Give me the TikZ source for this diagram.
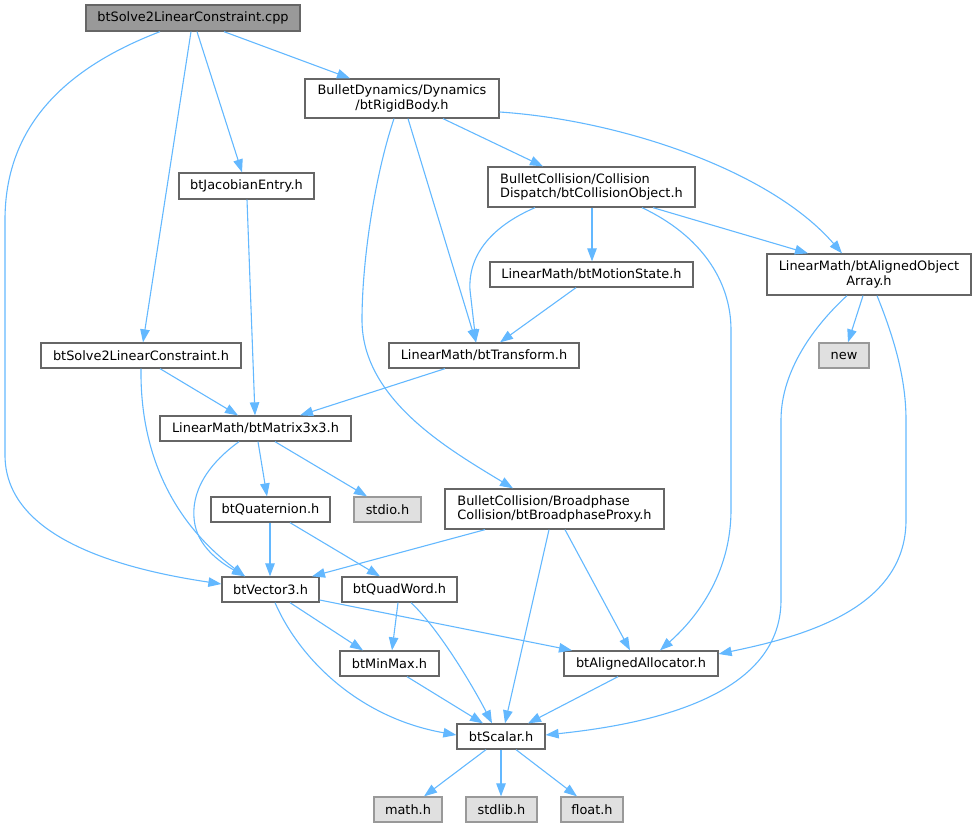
\documentclass[tikz,border=0pt]{standalone}
\usepackage{fontspec}
\setmainfont{DejaVu Sans}
\usetikzlibrary{arrows.meta}
\definecolor{edgec}{HTML}{63B8FF}
\definecolor{bord}{HTML}{666666}
\definecolor{sysb}{HTML}{999999}
\definecolor{sysf}{HTML}{E0E0E0}
\definecolor{cppf}{HTML}{999999}
\begin{document}
\begin{tikzpicture}[x=1pt,y=-1pt,
  box/.style={draw=bord, line width=1.3pt, fill=white, inner sep=0pt,
    font=\fontsize{12.9}{14.5}\selectfont},
  sysbox/.style={box, draw=sysb, fill=sysf},
  rootbox/.style={box, fill=cppf},
  dep/.style={draw=edgec, line width=1.1pt, -{Triangle[length=13pt,width=9.5pt]}}]
\useasboundingbox (0,0) rectangle (976,828);
% nodes
\node[rootbox, minimum width=214pt, minimum height=26pt] (cpp) at (193,18) {btSolve2LinearConstraint.cpp};
\node[box, minimum width=194pt, minimum height=39pt, align=center] (rigid) at (402,98.5) {BulletDynamics/Dynamics\\/btRigidBody.h};
\node[box, minimum width=135pt, minimum height=26pt] (jac) at (246.5,186) {btJacobianEntry.h};
\node[box, minimum width=207pt, minimum height=40pt, align=left] (colobj) at (591.5,187) {BulletCollision/Collision\\Dispatch/btCollisionObject.h};
\node[box, minimum width=204pt, minimum height=41pt, align=center] (aoa) at (869,274.5) {LinearMath/btAlignedObject\\Array.h};
\node[box, minimum width=203pt, minimum height=25pt] (motion) at (591.5,274.5) {LinearMath/btMotionState.h};
\node[box, minimum width=200pt, minimum height=25pt] (solve2h) at (141,355.5) {btSolve2LinearConstraint.h};
\node[box, minimum width=190pt, minimum height=25pt] (trans) at (484,355.5) {LinearMath/btTransform.h};
\node[sysbox, minimum width=50pt, minimum height=25pt] (new) at (844,355.5) {new};
\node[box, minimum width=191pt, minimum height=25pt] (mat) at (255.5,428.5) {LinearMath/btMatrix3x3.h};
\node[box, minimum width=119pt, minimum height=25pt] (quat) at (270.5,509.5) {btQuaternion.h};
\node[sysbox, minimum width=67pt, minimum height=25pt] (stdio) at (387.5,509.5) {stdio.h};
\node[box, minimum width=219pt, minimum height=40pt, align=left] (broad) at (554.5,509) {BulletCollision/Broadphase\\Collision/btBroadphaseProxy.h};
\node[box, minimum width=97pt, minimum height=25pt] (vec) at (270.5,589.5) {btVector3.h};
\node[box, minimum width=115pt, minimum height=25pt] (quad) at (399.5,589.5) {btQuadWord.h};
\node[box, minimum width=99pt, minimum height=25pt] (minmax) at (389.5,663.5) {btMinMax.h};
\node[box, minimum width=154pt, minimum height=25pt] (alloc) at (641,663.5) {btAlignedAllocator.h};
\node[box, minimum width=88pt, minimum height=25pt] (scalar) at (501,736.5) {btScalar.h};
\node[sysbox, minimum width=68pt, minimum height=25pt] (math) at (408,809.5) {math.h};
\node[sysbox, minimum width=71pt, minimum height=25pt] (stdlib) at (501.5,809.5) {stdlib.h};
\node[sysbox, minimum width=62pt, minimum height=25pt] (float) at (592,809.5) {float.h};
% edges
\draw[dep] (cpp.south -| 224,0) -- (rigid.north -| 350,0);
\draw[dep] (cpp.south -| 197,0) -- (jac.north -| 242,0);
\draw[dep] (cpp.south -| 191,0) -- (solve2h.north -| 143,0);
\draw[dep] (cpp.south -| 160,0) .. controls (60,70) and (5,130) .. (5,220) -- (5,455) .. controls (5,530) and (100,566) .. (vec.west |- 0,584);
\draw[dep] (rigid.south -| 443,0) -- (colobj.north -| 543,0);
\draw[dep] (rigid.east |- 0,112) .. controls (620,120) and (770,170) .. (aoa.north -| 842,0);
\draw[dep] (rigid.south -| 408,0) -- (trans.north -| 476,0);
\draw[dep] (rigid.south -| 394,0) .. controls (375,175) and (362,260) .. (362,320) .. controls (362,400) and (450,450) .. (broad.north -| 513,0);
\draw[dep] (jac.south -| 247,0) -- (mat.north -| 255,0);
\draw[dep] (colobj.south -| 592,0) -- (motion.north -| 592,0);
\draw[dep] (colobj.south -| 535,0) .. controls (488,228) and (468,258) .. (470,290) -- (trans.north -| 476,0);
\draw[dep] (colobj.south -| 653,0) -- (aoa.north -| 808,0);
\draw[dep] (colobj.south -| 642,0) .. controls (700,235) and (731,280) .. (731,330) -- (731,510) .. controls (731,570) and (700,615) .. (alloc.north -| 660,0);
\draw[dep] (motion.south -| 576,0) -- (trans.north -| 500,0);
\draw[dep] (aoa.south -| 863,0) -- (new.north -| 848,0);
\draw[dep] (aoa.south -| 847,0) .. controls (815,325) and (781,370) .. (781,420) -- (781,600) .. controls (781,700) and (640,725) .. (scalar.east |- 0,735);
\draw[dep] (aoa.south -| 877,0) .. controls (895,340) and (906,380) .. (906,420) -- (906,520) .. controls (906,610) and (800,637) .. (alloc.east |- 0,654);
\draw[dep] (solve2h.south -| 160,0) -- (mat.north -| 238,0);
\draw[dep] (solve2h.south -| 141,0) .. controls (140,450) and (170,520) .. (vec.north -| 245,0);
\draw[dep] (trans.south -| 445,0) -- (mat.north -| 300,0);
\draw[dep] (mat.south -| 258,0) -- (quat.north -| 267,0);
\draw[dep] (mat.south -| 275,0) -- (stdio.north -| 367,0);
\draw[dep] (mat.south -| 239,0) .. controls (200,470) and (190,500) .. (195,525) .. controls (200,550) and (225,565) .. (vec.north -| 245,0);
\draw[dep] (quat.south -| 270,0) -- (vec.north -| 270,0);
\draw[dep] (quat.south -| 290,0) -- (quad.north -| 380,0);
\draw[dep] (broad.south -| 485,0) -- (vec.north -| 312,0);
\draw[dep] (broad.south -| 549,0) -- (scalar.north -| 505,0);
\draw[dep] (broad.south -| 565,0) -- (alloc.north -| 630,0);
\draw[dep] (vec.south -| 290,0) -- (minmax.north -| 363,0);
\draw[dep] (vec.east |- 0,600) -- (alloc.north -| 572,0);
\draw[dep] (vec.south -| 275,0) .. controls (300,660) and (360,718) .. (scalar.west |- 0,735);
\draw[dep] (quad.south -| 398,0) -- (minmax.north -| 392,0);
\draw[dep] (quad.south -| 411,0) .. controls (440,630) and (475,690) .. (scalar.north -| 492,0);
\draw[dep] (minmax.south -| 407,0) -- (scalar.north -| 483,0);
\draw[dep] (alloc.south -| 618,0) -- (scalar.north -| 528,0);
\draw[dep] (scalar.south -| 486,0) -- (math.north -| 424,0);
\draw[dep] (scalar.south -| 501,0) -- (stdlib.north -| 501,0);
\draw[dep] (scalar.south -| 516,0) -- (float.north -| 577,0);
\end{tikzpicture}
\end{document}
